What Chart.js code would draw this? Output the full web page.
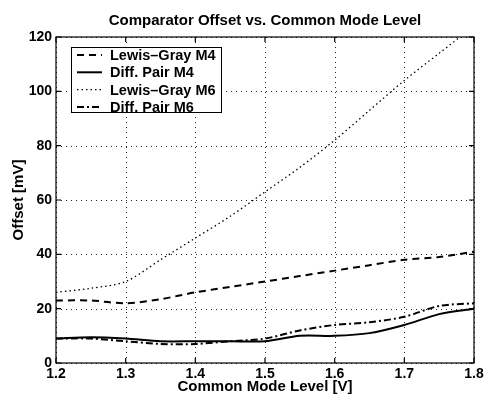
<!DOCTYPE html>
<html>
<head>
<meta charset="utf-8">
<script src="https://cdn.jsdelivr.net/npm/chart.js@4/dist/chart.umd.min.js"></script>
<style>
  html,body{margin:0;padding:0;background:#fff;}
  #wrap{width:485px;height:397px;position:relative;}
</style>
</head>
<body>
<div id="wrap"><canvas id="c"></canvas></div>
<script>
// data
const xVals=[1.2,1.25,1.3,1.35,1.4,1.45,1.5,1.55,1.6,1.65,1.7,1.75,1.8];
const lewisM4=[23,23,22,23.5,26,28,30,32,34,36,38,39,41];
const diffM4=[9,9.5,9,8,8,8,8,10,10,11,14,18,20];
const lewisM6=[26,27.5,30,38,46,54,63,72,82,93,104,114,124];
const diffM6=[9,9,8,7,7,8,9,12,14,15,17,21,22];
const seriesNames=['Lewis\u2013Gray M4','Diff. Pair M4','Lewis\u2013Gray M6','Diff. Pair M6'];
const yTicks=[0,20,40,60,80,100,120];
const xTicks=[1.2,1.3,1.4,1.5,1.6,1.7,1.8];

const FONT='"Liberation Sans", Arial, Helvetica, sans-serif';
const pts=arr=>arr.map((v,i)=>({x:xVals[i],y:v}));

// dotted grid, frame, inward ticks and the boxed legend (matlab look)
const matlabLook={
  id:'matlabLook',
  beforeDatasetsDraw(chart){
    const ctx=chart.ctx,a=chart.chartArea,xs=chart.scales.x,ys=chart.scales.y;
    ctx.save();ctx.strokeStyle='#222';ctx.lineWidth=1;ctx.setLineDash([1,4]);
    ctx.beginPath();
    xTicks.forEach(t=>{const p=Math.round(xs.getPixelForValue(t))+0.5;ctx.moveTo(p,a.top);ctx.lineTo(p,a.bottom);});
    yTicks.forEach(t=>{const p=Math.round(ys.getPixelForValue(t))+0.5;ctx.moveTo(a.left,p);ctx.lineTo(a.right,p);});
    ctx.stroke();ctx.restore();
  },
  afterDatasetsDraw(chart){
    const ctx=chart.ctx, a=chart.chartArea;
    const x0=a.left+15, y0=a.top+10, w=150, h=65;
    ctx.save();
    ctx.fillStyle='#fff';ctx.fillRect(x0,y0,w,h);
    ctx.strokeStyle='#000';ctx.lineWidth=1;ctx.strokeRect(x0+0.5,y0+0.5,w,h);
    ctx.font='bold 14.5px '+FONT;ctx.textBaseline='middle';ctx.fillStyle='#000';
    chart.data.datasets.forEach((ds,i)=>{
      const yy=y0+8+i*17.3;
      ctx.beginPath();ctx.setLineDash(ds.borderDash||[]);ctx.lineWidth=ds.borderWidth;
      ctx.moveTo(x0+6,yy);ctx.lineTo(x0+31,yy);ctx.stroke();
      ctx.setLineDash([]);
      ctx.fillText(ds.label,x0+39,yy+1);
    });
    ctx.restore();
  },
  afterDraw(chart){
    const ctx=chart.ctx,a=chart.chartArea;
    ctx.save();ctx.strokeStyle='#000';ctx.lineWidth=1.2;
    ctx.strokeRect(a.left,a.top,a.right-a.left,a.bottom-a.top);
    const xs=chart.scales.x, ys=chart.scales.y;
    ctx.beginPath();
    xTicks.forEach(t=>{const p=xs.getPixelForValue(t);ctx.moveTo(p,a.bottom);ctx.lineTo(p,a.bottom-5);ctx.moveTo(p,a.top);ctx.lineTo(p,a.top+5);});
    yTicks.forEach(t=>{const p=ys.getPixelForValue(t);ctx.moveTo(a.left,p);ctx.lineTo(a.left+5,p);ctx.moveTo(a.right,p);ctx.lineTo(a.right-5,p);});
    ctx.stroke();ctx.restore();
  }
};

new Chart(document.getElementById('c'),{
  type:'line',
  data:{datasets:[
    {label:seriesNames[0],data:pts(lewisM4),borderColor:'#000',borderWidth:2,borderDash:[7,5]},
    {label:seriesNames[1],data:pts(diffM4),borderColor:'#000',borderWidth:2},
    {label:seriesNames[2],data:pts(lewisM6),borderColor:'#000',borderWidth:1.3,borderDash:[1.5,3]},
    {label:seriesNames[3],data:pts(diffM6),borderColor:'#000',borderWidth:2,borderDash:[7,3,2,3]}
  ]},
  options:{
    responsive:true,maintainAspectRatio:false,animation:false,
    elements:{point:{radius:0},line:{tension:0.3,fill:false}},
    layout:{padding:{top:0,right:11,left:0,bottom:0}},
    plugins:{
      legend:{display:false},tooltip:{enabled:false},
      title:{display:true,fullSize:false,text:'Comparator Offset vs. Common Mode Level',color:'#000',
        font:{family:FONT,size:15,weight:'bold'},padding:{top:12,bottom:7}}
    },
    scales:{
      x:{type:'linear',min:1.2,max:1.8,
        afterBuildTicks(s){s.ticks=xTicks.map(v=>({value:v}));},
        afterFit(s){s.height=34;s.paddingLeft=0;s.paddingRight=0;},
        ticks:{color:'#000',font:{family:FONT,size:14,weight:'bold'},padding:3,maxRotation:0,autoSkip:false,
          callback:v=>v.toFixed(1)},
        grid:{display:false,drawTicks:false},
        border:{display:false},
        title:{display:true,text:'Common Mode Level [V]',color:'#000',padding:{top:0,bottom:1.5},
          font:{family:FONT,size:15,weight:'bold'}}
      },
      y:{min:0,max:120,
        afterBuildTicks(s){s.ticks=yTicks.map(v=>({value:v}));},
        afterFit(s){s.width=56;},
        ticks:{color:'#000',font:{family:FONT,size:14,weight:'bold'},padding:4},
        grid:{display:false,drawTicks:false},
        border:{display:false},
        title:{display:true,text:'Offset [mV]',color:'#000',padding:{top:10,bottom:0},
          font:{family:FONT,size:15,weight:'bold'}}
      }
    }
  },
  plugins:[matlabLook]
});
</script>
</body>
</html>
